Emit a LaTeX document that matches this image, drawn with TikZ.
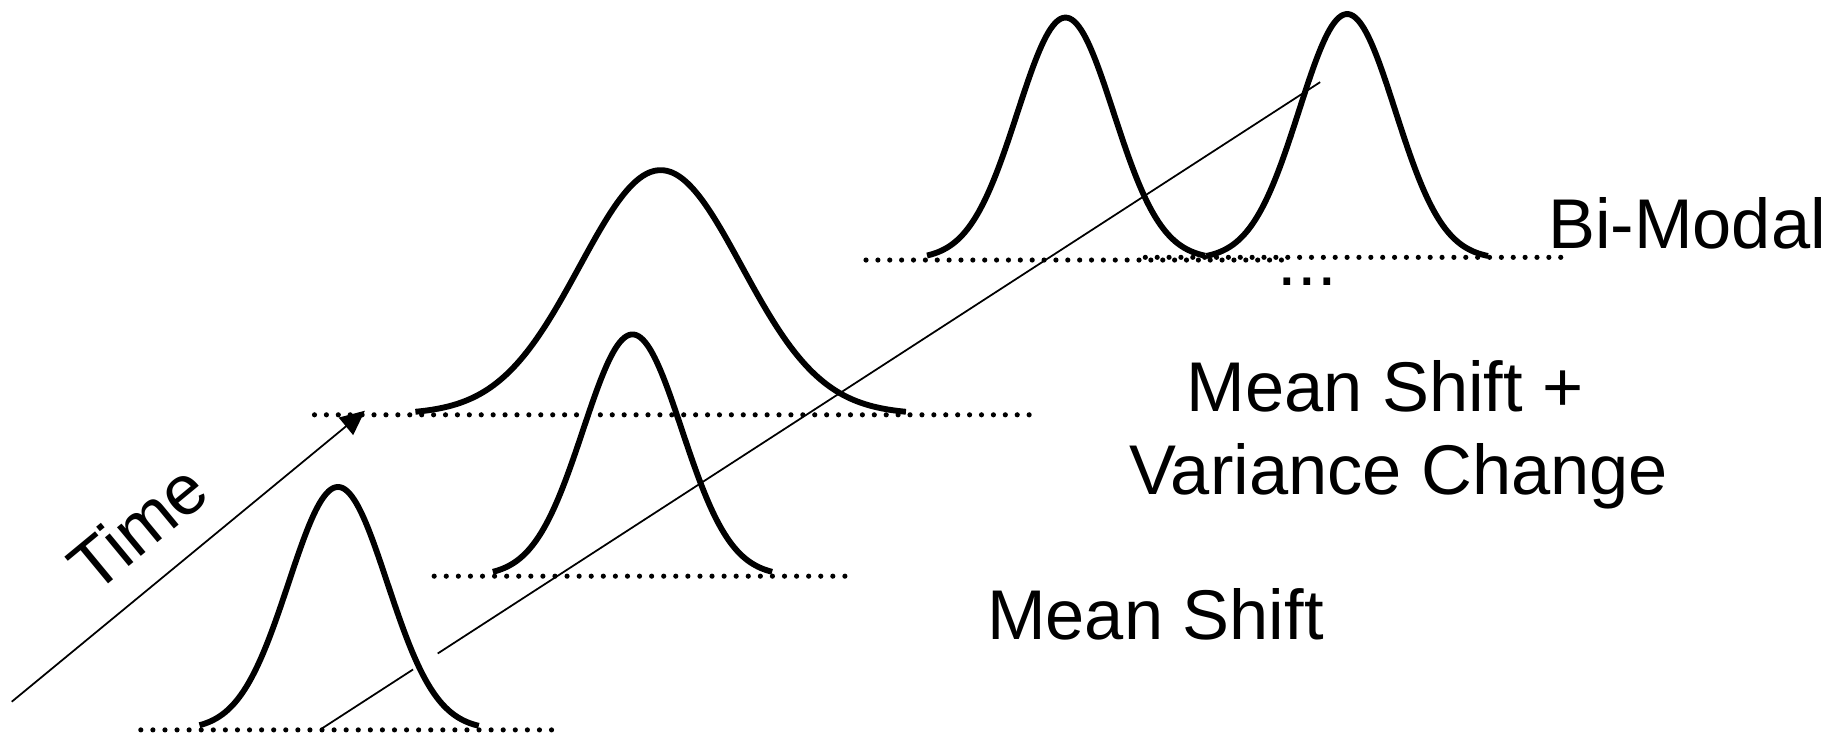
\documentclass[tikz,border=0pt]{standalone}
\usepackage{fontspec}
\setmainfont{Liberation Sans}
\usetikzlibrary{arrows.meta}
\newcommand\gaussbump[6]{% mu, sigma, base, height, start, end
  \draw[curve] plot[domain=#5:#6, samples=120, smooth] (\x,{#3-#4*exp(-0.5*((\x-#1)/#2)^2)});}
\newcommand\dotrow[4]{% x0, x1, y, intervals
  \foreach \i in {0,...,#4} \fill[dotmark] ({#1+((#2-#1)/#4)*\i},#3) circle[radius=2.2pt];}
\begin{document}
\begin{tikzpicture}[x=1pt,y=-1pt,
  curve/.style={line width=5pt, line cap=butt, line join=round},
  dotmark/.style={black},
  thinline/.style={line width=1.5pt},
  lbl/.style={inner sep=0pt, font=\fontsize{60}{70}\selectfont, anchor=base west}]
\useasboundingbox (0,0) rectangle (1568,628);
% dotted baselines
\dotrow{120}{470}{622}{34}
\dotrow{370}{720}{491}{34}
\dotrow{268}{877}{353.5}{60}
\dotrow{738}{1092}{221.6}{35}
\dotrow{976}{1330}{219.3}{35}
% distributions
\gaussbump{288}{42}{622}{207}{170}{408}
\gaussbump{539}{42}{491}{206}{420}{658}
\gaussbump{563}{69}{353}{208}{354}{772}
\gaussbump{908}{41}{221}{206}{790}{1027}
\gaussbump{1148}{41}{221}{209}{1028}{1268}
% time arrow
\coordinate (ta) at (10,598);
\coordinate (tb) at (311,350);
\draw[thinline, -{Triangle[length=21pt,width=19pt]}] (ta) -- (tb);
\node[inner sep=0pt, font=\fontsize{60}{70}\selectfont, rotate=39.6] (time) at (117,449) {Time};
% long trend line (interrupted)
\coordinate (l1) at (274,621); \coordinate (l2) at (352,570.5);
\coordinate (l3) at (373,556.9); \coordinate (l4) at (1125,70);
\draw[thinline] (l1) -- (l2);
\draw[thinline] (l3) -- (l4);
% labels
\node[lbl] (bm) at (1319,212) {Bi-Modal};
\node[lbl] (msp) at (1011,351) {Mean Shift +};
\node[lbl] (vc) at (962,421) {Variance Change};
\node[lbl] (ms) at (841,545) {Mean Shift};
\node[inner sep=0pt, font=\fontsize{60}{70}\selectfont, anchor=base] (dots) at (1114,243) {...};
\end{tikzpicture}
\end{document}
